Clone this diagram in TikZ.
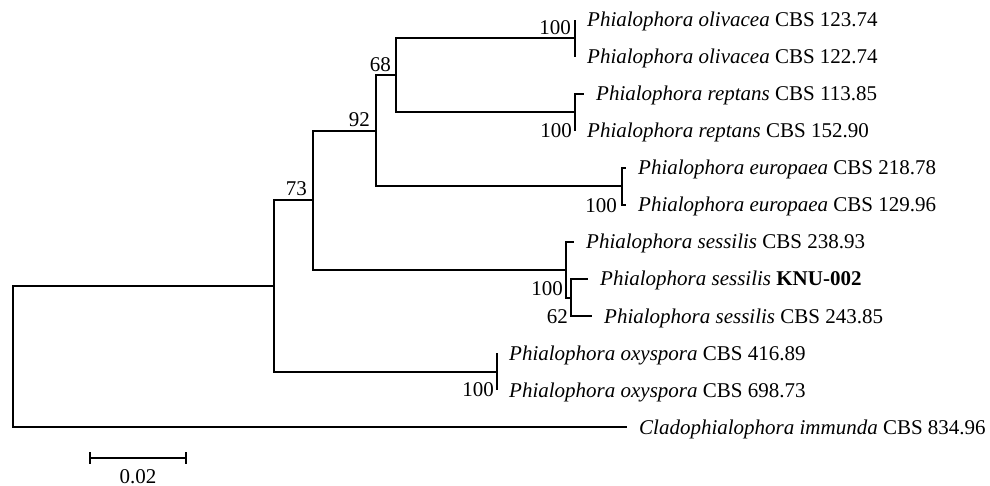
\documentclass[tikz,border=0pt]{standalone}
\usepackage{fontspec}
\setmainfont{Liberation Serif}
\usetikzlibrary{calc}
\begin{document}
\begin{tikzpicture}[x=1pt,y=-1pt,
  branch/.style={line width=2pt, line join=miter},
  taxon/.style={anchor=base west, inner sep=0pt, xshift=12pt, yshift=-7pt,
                font=\fontsize{21}{25}\selectfont},
  boot/.style={anchor=base east, inner sep=0pt, font=\fontsize{21}{25}\selectfont}]
\useasboundingbox (0,0) rectangle (990,486);

% internal nodes of the tree
\coordinate (root) at (13,356.5);
\coordinate (nA)   at (274,286);
\coordinate (n73)  at (313,200.4);
\coordinate (n92)  at (376,131);
\coordinate (n68)  at (396,75.5);
\coordinate (nOli) at (575,38.5);
\coordinate (nRep) at (575,112.5);
\coordinate (nEur) at (622,186.5);
\coordinate (nSes) at (566,269.75);
\coordinate (n62)  at (571,297.5);
\coordinate (nOxy) at (497,371.5);

% branch tips
\coordinate (l1)  at (575,20);
\coordinate (l2)  at (575,57);
\coordinate (l3)  at (584,94);
\coordinate (l4)  at (575,131);
\coordinate (l5)  at (626,168);
\coordinate (l6)  at (626,205);
\coordinate (l7)  at (574,242);
\coordinate (l8)  at (588,279);
\coordinate (l9)  at (592,316);
\coordinate (l10) at (497,353);
\coordinate (l11) at (497,390);
\coordinate (l12) at (627,427);

% branches
\draw[branch] (root) |- (nA);
\draw[branch] (root) |- (l12);
\draw[branch] (nA) |- (n73);
\draw[branch] (nA) |- (nOxy);
\draw[branch] (n73) |- (n92);
\draw[branch] (n73) |- (nSes);
\draw[branch] (n92) |- (n68);
\draw[branch] (n92) |- (nEur);
\draw[branch] (n68) |- (nOli);
\draw[branch] (n68) |- (nRep);
\draw[branch] (nOli) |- (l1);
\draw[branch] (nOli) |- (l2);
\draw[branch] (nRep) |- (l3);
\draw[branch] (nRep) |- (l4);
\draw[branch] (nEur) |- (l5);
\draw[branch] (nEur) |- (l6);
\draw[branch] (nSes) |- (l7);
\draw[branch] (nSes) |- (n62);
\draw[branch] (n62) |- (l8);
\draw[branch] (n62) |- (l9);
\draw[branch] (nOxy) |- (l10);
\draw[branch] (nOxy) |- (l11);

% taxon labels
\node[taxon] (t1)  at (l1)  {\textit{Phialophora olivacea} CBS 123.74};
\node[taxon] (t2)  at (l2)  {\textit{Phialophora olivacea} CBS 122.74};
\node[taxon] (t3)  at (l3)  {\textit{Phialophora reptans} CBS 113.85};
\node[taxon] (t4)  at (l4)  {\textit{Phialophora reptans} CBS 152.90};
\node[taxon] (t5)  at (l5)  {\textit{Phialophora europaea} CBS 218.78};
\node[taxon] (t6)  at (l6)  {\textit{Phialophora europaea} CBS 129.96};
\node[taxon] (t7)  at (l7)  {\textit{Phialophora sessilis} CBS 238.93};
\node[taxon] (t8)  at (l8)  {\textit{Phialophora sessilis} \textbf{KNU-002}};
\node[taxon] (t9)  at (l9)  {\textit{Phialophora sessilis} CBS 243.85};
\node[taxon] (t10) at (l10) {\textit{Phialophora oxyspora} CBS 416.89};
\node[taxon] (t11) at (l11) {\textit{Phialophora oxyspora} CBS 698.73};
\node[taxon] (t12) at (l12) {\textit{Cladophialophora immunda} CBS 834.96};

% bootstrap values
\node[boot] (bOli) at ($(nOli)+(-4,-4)$) {100};
\node[boot] (bRep) at ($(l4)+(-3,7)$) {100};
\node[boot] (b68)  at ($(n68)+(-5,-3.5)$) {68};
\node[boot] (b92)  at ($(n92)+(-6,-4)$) {92};
\node[boot] (bEur) at ($(nEur|-l6)+(-5,8)$) {100};
\node[boot] (b73)  at ($(n73)+(-6,-4.4)$) {73};
\node[boot] (bSes) at ($(nSes)+(-3,26)$) {100};
\node[boot] (b62)  at ($(n62|-l9)+(-3,7)$) {62};
\node[boot] (bOxy) at ($(l11)+(-3,6)$) {100};

% scale bar
\coordinate (sbL) at (90,458);
\coordinate (sbR) at (186,458);
\draw[branch] (sbL) -- (sbR);
\draw[branch] ($(sbL)+(0,-6)$) -- ($(sbL)+(0,6)$);
\draw[branch] ($(sbR)+(0,-6)$) -- ($(sbR)+(0,6)$);
\node[anchor=base, inner sep=0pt, font=\fontsize{21}{25}\selectfont] (sbT)
  at ($(sbL)!0.5!(sbR)+(0,25)$) {0.02};
\end{tikzpicture}
\end{document}
